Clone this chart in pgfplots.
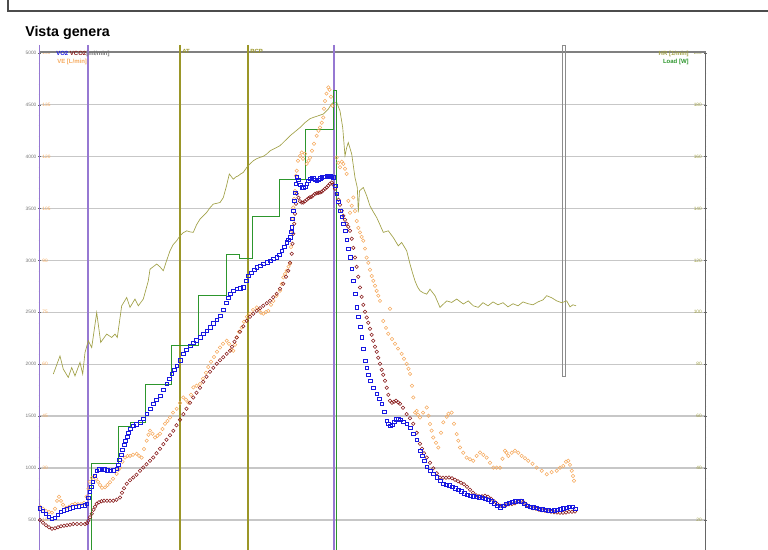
\documentclass[border=0pt]{standalone}
\usepackage{fontspec}
\setmainfont{Liberation Sans}
\usepackage{pgfplots}
\pgfplotsset{compat=1.18}

\definecolor{cvo}{RGB}{25,25,225}
\definecolor{cvco}{RGB}{135,25,25}
\definecolor{cve}{RGB}{245,170,95}
\definecolor{chr}{RGB}{160,160,70}
\definecolor{cload}{RGB}{45,150,45}
\definecolor{cthr}{RGB}{155,150,40}
\definecolor{cmark}{RGB}{150,120,210}
\definecolor{tickgray}{RGB}{115,115,115}

\pgfplotsset{
  cpet/.style={
    at={(39.5,-21)}, anchor=south west, scale only axis,
    width=499.5pt, height=389.25pt,
    xmin=39.5, xmax=705.5, ymin=0, ymax=5000,
    axis x line=none,
    /pgf/number format/assume math mode=true,
    /pgf/number format/1000 sep={},
    yticklabel style={font=\fontsize{3.6}{4}\selectfont, inner sep=1pt},
    major tick length=2.3pt, minor tick length=1.3pt,
  },
}

% tick labels of the other scales (VE, HR, Load) at one line of the VO2 scale
\newcommand\seclab[4]{%
  \node[anchor=west, inner sep=0pt, xshift=2pt, text=cve, font=\fontsize{3.6}{4}\selectfont] at (axis cs:39.5,#1) {#2};
  \node[anchor=east, inner sep=0pt, xshift=-2.6pt, text=chr, font=\fontsize{3.6}{4}\selectfont] at (axis cs:705.5,#1) {#3};
  \node[anchor=west, inner sep=0pt, xshift=2.2pt, text=cload, font=\fontsize{3.6}{4}\selectfont] at (axis cs:705.5,#1) {#4};}

\begin{document}
\begin{tikzpicture}[x=0.75pt,y=0.75pt]
\useasboundingbox (0,0) rectangle (768,550);
\clip (0,0) rectangle (768,550);

% frame at the top and title
\draw[black!70, line width=0.8pt] (8,560) -- (8,539) -- (775,539);
\node[anchor=base west, inner sep=0, font=\bfseries\fontsize{10.7}{12}\selectfont] at (25,513.3) {Vista genera};

% axis frame and grid
\begin{axis}[cpet,
    axis y line*=box,
    ytick pos=both, yticklabel pos=left,
    axis line style={black!60},
    ytick={500,1000,...,5000},
    minor y tick num=4,
    tick align=center,
    tick style={black!60},
    ymajorgrids,
    grid style={black!22, line width=1pt},
    yticklabel style={text=tickgray},
  ]
\seclab{5000}{150}{200}{250}
\seclab{4500}{135}{180}{225}
\seclab{4000}{120}{160}{200}
\seclab{3500}{105}{140}{175}
\seclab{3000}{90}{120}{150}
\seclab{2500}{75}{100}{125}
\seclab{2000}{60}{80}{100}
\seclab{1500}{45}{60}{75}
\seclab{1000}{30}{40}{50}
\seclab{500}{15}{20}{25}
\end{axis}

\draw[black!50, line width=0.8pt] (39.5,498) -- (705.5,498);

% event lines
\draw[cmark, line width=0.9pt] (39.5,505) -- (39.5,-5);
\draw[cmark, line width=0.9pt] (88,505) -- (88,-5);
\draw[cthr, line width=1.1pt] (180,505) -- (180,-5);
\draw[cthr, line width=1.1pt] (248,505) -- (248,-5);
\draw[cmark, line width=0.9pt] (334,505) -- (334,-5);
\draw[black!45, line width=0.6pt] (562,505) rectangle (565.5,173.5);

% data: VO2/VCO2 in ml/min; VE (L/min), HR (1/min) and Load (W) brought to that scale
\begin{axis}[cpet, axis y line*=left, axis line style={draw=none}, ytick=\empty]

% HR [1/min]: 200 at the top line
\addplot[chr, line width=0.5pt, y filter/.expression={y*25}] coordinates {
(53.3,76.2)(56,79.0)(60,83.2)(63.3,78.1)(68.3,74.9)(71.7,78.7)(75,75.5)(80,80.7)
(82.7,76.2)(85,84.5)(88.3,89.0)(91.7,86.4)(96.7,99.9)(100.7,88.4)(106.7,91.6)
(111.7,90.3)(115,91.6)(117.3,90.3)(121.7,102.5)(126.7,105.7)(130,101.9)(135,105.1)
(138.3,102.5)(143.3,105.1)(148.3,112.1)(150,116.6)(153,117.5)(156.7,118.6)(160,117.5)
(163.3,116.0)(166.5,119.8)(170,123.7)(173,126.0)(176.7,127.6)(180,129.5)(183,130.6)
(186.7,131.4)(190,131.0)(193.3,130.8)(196.5,133.7)(200,135.9)(203.3,137.2)(206.7,138.5)
(210,140.3)(213.3,141.7)(216.7,142.0)(220,142.3)(223.3,144.2)(226.5,148.7)(229.3,153.3)
(231.5,152.2)(233.3,151.3)(236,152.2)(238.3,152.6)(241,153.4)(243.3,153.9)(246.7,155.8)
(250,157.2)(253.3,158.4)(256.7,159.2)(260,159.7)(263.3,160.1)(266.7,161.0)(270,162.2)
(275,163.2)(280,164.2)(285,166.1)(290,168.0)(295,169.6)(300,171.2)(305,173.1)
(310,174.6)(313.3,175.1)(318,175.7)(323.3,176.4)(328.3,178.3)(331,180.0)(333.3,180.9)
(336.7,180.9)(340,177.6)(342.7,171.2)(345,160.3)(346.7,163.5)(348.3,165.4)(351.7,161.0)
(355,151.9)(357.3,148.1)(358.3,138.5)(359.5,146.8)(363.3,148.1)(366.7,144.9)(370,141.0)
(373.3,138.7)(376.7,136.5)(380,133.7)(383.3,130.8)(388.3,131.4)(393.3,128.8)(398.3,125.6)
(401.7,126.9)(406.7,123.7)(410,118.6)(412.5,115.2)(415,112.1)(417.5,109.8)(420,108.3)
(423.3,107.5)(426.7,107.0)(430,108.9)(435,106.4)(440,101.9)(446.7,104.4)(451.7,103.8)
(456.7,105.1)(463.3,103.2)(468.3,104.4)(473.3,102.5)(478.3,101.9)(483,103.7)(488,102.5)
(493,104.0)(498,102.9)(503,103.7)(508,102.1)(513,103.3)(518,102.5)(523,104.0)
(528,103.3)(533,102.9)(538,104.0)(543,104.8)(546.7,106.4)(551.7,105.6)(556.7,104.4)
(561.7,103.7)(566.7,104.4)(570,102.1)(573,102.9)(576,102.5)
};

% Load [W]: 250 at the top line
\addplot[const plot, cload, line width=0.7pt, y filter/.expression={y*20}] coordinates {
(39.5,0)(91,52)(118.3,70)(130,72)(145,90)(171.5,109)(198.5,133)(226,153)(239,151)
(252.5,171)(279,189)(305.5,213)(333.3,232)(336,0)(345,0)
};

% VE [L/min]: 150 at the top line
\addplot[only marks, mark=o, mark size=1.3pt, cve, mark options={line width=0.4pt},
  y filter/.expression={y*100/3}] coordinates {
(40,18.8)(43,18.2)(46,17.6)(49,17.3)(52,17.1)(55,18.2)(57,20.5)(59,21.7)(61,20.5)
(63,19.4)(66,18.5)(69,18.8)(72,19.4)(75,19.7)(78,19.5)(81,19.5)(84,19.9)(86.5,21.7)
(88.5,24.0)(90,26.0)(92,27.2)(94,27.5)(96,26.9)(98,26.0)(100,25.1)(102,24.3)(105,24.4)
(107.5,25.1)(110,25.9)(113,26.9)(116.7,28.3)(118.5,29.5)(120,30.1)(122.5,31.8)(125,33.0)
(127.5,33.5)(130,33.5)(133,33.8)(136.7,34.1)(139,33.5)(141.7,33.0)(144,35.5)(146.7,37.9)
(148.5,39.6)(150,40.8)(152.5,39.9)(155,38.8)(157.5,39.3)(160,39.9)(162.5,41.3)(165,42.8)
(167.5,43.6)(170,44.6)(173,46.0)(176.7,47.1)(180,48.8)(183.3,50.4)(186,49.7)(188.3,48.9)
(191,51.2)(193.3,53.3)(196.5,53.8)(200,54.3)(203,55.8)(206,57.5)(208.3,59.2)(211,60.7)
(214,62.1)(217,63.6)(220,64.8)(223,65.9)(226.7,66.8)(229,65.9)(231,64.2)(233.3,63.9)
(235,65.6)(236.7,67.7)(239,69.4)(241.7,70.6)(244,72.3)(247,73.7)(250,74.6)(253,75.7)
(256.7,76.4)(259,75.7)(261,74.9)(263.3,74.6)(266,75.1)(268.3,75.4)(271,77.2)(273.3,78.3)
(276.5,79.8)(280,81.2)(281.7,83.2)(283.3,85.1)(285,86.1)(286.7,87.0)(288.5,88.2)(290,89.0)
(291,93.9)(291.7,98.6)(292.5,102.0)(293.3,105.3)(294.2,107.8)(295,110.1)(296,114.5)
(296.7,115.9)(298,118.8)(300,120.2)(301.7,121.2)(303,119.4)(305,120.8)(306.7,117.9)
(308.5,118.8)(310,119.7)(312,121.7)(314,123.7)(316.7,126.0)(318.5,127.5)(320,128.4)
(321.7,129.8)(323.3,131.3)(324,133.8)(325,136.1)(326.5,138.2)(328.3,140.0)(329.5,139.3)
(331,137.3)(332.5,134.7)(336.7,119.7)(338.3,118.2)(340,116.9)(341.7,118.5)(343.3,117.9)
(345,116.5)(346.7,115.0)(348.3,107.2)(350,103.8)(351.7,105.8)(353.3,108.2)(355,104.3)
(356.7,101.4)(358.3,99.4)(360,98.1)(361.7,96.8)(363.3,95.7)(365,93.4)(366.7,90.8)
(368.3,89.3)(370,87.3)(371.7,85.5)(373.3,84.1)(375,82.7)(376.7,81.2)(378.3,79.8)
(380,78.3)(383.3,72.5)(386,70.5)(388.3,68.8)(390,76.0)(392,67.3)(395,65.9)(398,64.5)
(401.7,63.0)(404,61.6)(406.7,60.1)(408.5,58.7)(410,57.2)(412,53.8)(413.3,50.4)(415,46.0)
(416.7,46.5)(418,45.4)(420,44.6)(423,46.0)(426.7,47.5)(428.5,45.1)(430,42.7)(431.7,40.8)
(433.3,38.8)(436,37.3)(438.3,35.9)(441,40.2)(443.3,43.2)(446.7,44.8)(448.5,45.7)
(451.7,46.0)(454,42.8)(456.7,39.8)(458.3,37.9)(460,35.9)(463.3,34.4)(466.7,33.0)
(470,32.5)(473.3,32.1)(476.7,33.5)(480,34.5)(483.3,33.8)(486.7,33.0)(490,31.5)
(493.3,30.1)(496.7,30.1)(500,30.1)(502.5,32.7)(505,35.0)(506.5,34.4)(508.3,33.5)
(511.7,34.4)(515,35.0)(518.3,34.4)(521.7,33.5)(525,32.8)(528.3,32.1)(532.5,31.2)
(536.7,30.1)(541.7,29.2)(546.7,28.2)(551.7,28.8)(556.7,29.2)(560,30.1)(563.3,30.6)
(566,31.8)(568.3,32.1)(570,30.9)(571.7,29.2)(573,27.7)(574,26.3)
};

% VCO2 [ml/min]
\addplot[only marks, mark=o, mark size=1.3pt, cvco, mark options={line width=0.4pt}] coordinates {
(40,498)(43,472)(46,448)(49,429)(52,414)(55,419)(58,429)(61,438)(64,443)(67,448)(70,453)
(73.3,460)(77,460)(81,460)(85,460)(87,467)(88.3,491)(90,525)(91.7,559)(93.5,597)(95,626)
(96.7,655)(99,670)(101.5,679)(104,684)(107,684)(110,684)(113.3,684)(116.5,694)(120,716)
(122,761)(124,804)(126.7,848)(130,882)(133.3,909)(136.5,935)(140,973)(143.3,1005)
(146.5,1036)(150,1069)(153.3,1101)(156.5,1142)(160,1185)(163.3,1230)(166.5,1272)
(170,1315)(173.3,1358)(176.5,1411)(180,1464)(183.3,1519)(186.5,1570)(190,1628)
(193.3,1679)(196.5,1725)(200,1773)(203.3,1831)(206.5,1879)(210,1927)(213.3,1965)
(216.7,2004)(220,2038)(223.3,2067)(226.7,2100)(230,2129)(232,2168)(234.5,2216)
(236.7,2257)(240,2312)(243.3,2365)(246.7,2418)(250,2457)(253.3,2486)(256.7,2515)
(260,2539)(263.3,2563)(266.7,2587)(270,2611)(273.3,2645)(276.7,2678)(280,2726)
(283.3,2775)(286,2842)(288.3,2900)(290,2977)(291.7,3064)(292.5,3160)(293.3,3256)
(294.2,3353)(295,3449)(296,3545)(296.7,3642)(298.5,3603)(300,3569)(301.7,3558)
(303.3,3558)(305,3569)(306.7,3584)(308.5,3598)(310,3608)(311.7,3613)(313.3,3627)
(315,3642)(316.7,3647)(318.5,3651)(320,3654)(321.7,3661)(323.3,3675)(325,3690)
(326.7,3702)(328.3,3719)(330,3738)(331.7,3751)(333.3,3728)(335,3690)(336.7,3642)
(338.5,3584)(340,3536)(341.7,3478)(343.3,3430)(345,3391)(346.7,3353)(348.3,3324)
(350,3285)(351.7,3208)(353.3,3121)(355,3028)(356.7,2938)(358.3,2842)(360,2739)
(361.7,2649)(363.3,2572)(365,2505)(366.7,2450)(368.3,2399)(370,2341)(371.7,2283)
(373.3,2226)(375,2168)(376.7,2120)(378.3,2062)(380,2004)(381.7,1946)(383.3,1898)
(385,1840)(386.7,1773)(388.3,1705)(390,1647)(392,1628)(394,1638)(396,1647)(398.3,1631)
(400,1619)(403,1580)(406.7,1519)(410,1479)(413.3,1426)(416.7,1339)(420,1233)(422,1185)
(424,1142)(426.7,1101)(430,1050)(433.3,997)(436.7,949)(440,908)(443,906)(446,906)
(449,908)(452,901)(455,886)(458,872)(461,857)(464,843)(467,819)(470,790)(473,761)
(476,737)(479,727)(482,727)(485,732)(488,723)(491,703)(494,679)(497,655)(500,636)
(503,636)(506,641)(509,650)(512,652)(515,660)(518,674)(521,684)(524,665)(527,641)
(530,621)(533,612)(536,607)(539,597)(542,592)(545,588)(548,583)(551,578)(554,573)
(557,571)(560,568)(563,568)(566,571)(569,578)(572,578)(575,581)
};

% VO2 [ml/min]
\addplot[only marks, mark=square, mark size=1.35pt, cvo, mark options={line width=0.45pt}] coordinates {
(40,610)(43,588)(46,559)(49,530)(52,511)(55,520)(58,549)(61,578)(64,592)(67,602)(70,612)
(73,619)(76,626)(79,631)(82,636)(85,641)(87,655)(88.5,713)(90,771)(91.5,819)(93,867)
(95,925)(97,973)(99,988)(101.7,992)(104,988)(107,978)(110,973)(113,978)(116.7,992)
(118,1031)(119.5,1079)(121,1127)(122.5,1175)(124,1224)(125.5,1262)(127,1301)(128.5,1339)
(130,1378)(133,1407)(136,1421)(140,1438)(143,1474)(146.7,1522)(150,1570)(153.3,1618)
(156.5,1657)(160,1696)(163,1753)(166.7,1811)(169,1859)(171.7,1908)(174,1946)(176.7,1985)
(180,2038)(183.3,2100)(186.5,2139)(190,2177)(193.3,2206)(196.5,2230)(200,2257)
(203.5,2293)(206.7,2322)(210,2356)(213.3,2394)(216.7,2428)(220,2466)(223,2524)(226,2592)
(228,2640)(230,2678)(233,2707)(236.7,2726)(240,2731)(243.3,2739)(246,2804)(248.3,2852)
(251,2881)(254,2910)(256.7,2932)(260,2948)(263.5,2967)(267,2982)(270,2996)(273.5,3015)
(276.7,3028)(279,3054)(281.7,3093)(284,3131)(286.7,3173)(288.5,3199)(290,3221)(291,3276)
(291.7,3317)(292.5,3401)(293.3,3478)(294,3574)(295,3651)(295.7,3738)(296.7,3799)
(298.5,3777)(300,3728)(301.7,3702)(303.5,3700)(305,3709)(306.7,3738)(308.5,3767)
(310,3786)(311.7,3796)(313.5,3791)(315,3777)(316.7,3767)(318.5,3777)(320,3791)
(321.7,3799)(323.5,3805)(325,3805)(327,3810)(328.5,3815)(330,3810)(331.7,3805)
(333.3,3799)(335,3719)(336.7,3642)(338.3,3565)(340,3478)(341.7,3420)(343.3,3353)
(345,3285)(346.7,3199)(348.3,3112)(350,3028)(351.7,2919)(353.3,2804)(355,2678)
(356.7,2546)(358.3,2457)(360,2360)(361.7,2257)(363.3,2148)(365,2033)(366.7,1965)
(368.3,1898)(370,1840)(373.3,1773)(376.7,1715)(379,1667)(381.7,1618)(384,1541)
(386.7,1455)(388.3,1426)(390,1407)(392,1416)(394.5,1445)(396.5,1469)(398.3,1474)
(400,1464)(403,1445)(406.7,1426)(410,1387)(413.3,1330)(416.7,1272)(420,1166)(422,1118)
(424,1069)(426.7,1012)(430,973)(433.3,944)(436.7,910)(440,877)(443,848)(446,838)
(449,833)(452,819)(455,804)(458,790)(461,776)(464,756)(467,742)(470,732)(473,727)
(476,723)(479,718)(482,713)(485,703)(488,694)(491,679)(494,660)(497,636)(500,621)
(503,636)(506,655)(509,665)(512,674)(515,679)(518,684)(521,679)(524,655)(527,636)
(530,626)(533,621)(536,617)(539,607)(542,602)(545,597)(548,592)(551,588)(554,592)
(557,597)(560,604)(563,612)(566,617)(569,626)(572,626)(575,607)
};
\end{axis}

% series labels
\node[anchor=base west, inner sep=0, font=\bfseries\fontsize{4.5}{5}\selectfont] at (56,494.3)
  {\textcolor{cvo}{VO2} \textcolor{cvco}{VCO2}\textcolor{tickgray}{[ml/min]}};
\node[anchor=base west, inner sep=0, font=\bfseries\fontsize{4.5}{5}\selectfont, text=cve] at (57,486.7) {VE [L/min]};
\node[anchor=base west, inner sep=0, font=\bfseries\fontsize{4.5}{5}\selectfont, text=cthr] at (182,496) {AT};
\node[anchor=base west, inner sep=0, font=\bfseries\fontsize{4.5}{5}\selectfont, text=cthr] at (250,496) {RCP};
\node[anchor=base east, inner sep=0, font=\bfseries\fontsize{4.5}{5}\selectfont, text=chr] at (689,494) {HR [1/min]};
\node[anchor=base east, inner sep=0, font=\bfseries\fontsize{4.5}{5}\selectfont, text=cload] at (689,486) {Load [W]};
\end{tikzpicture}
\end{document}
